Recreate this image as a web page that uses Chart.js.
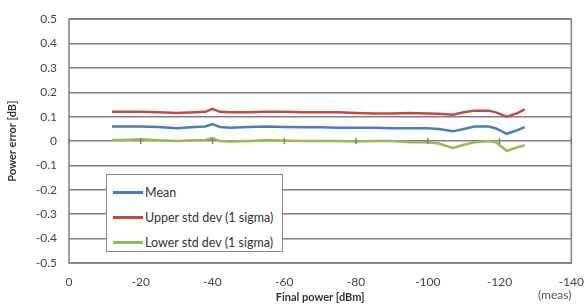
<!DOCTYPE html>
<html>
<head>
<meta charset="utf-8">
<script src="https://cdn.jsdelivr.net/npm/chart.js@4"></script>
<style>
  html, body { margin: 0; padding: 0; background: #fff; }
  #wrap { position: relative; width: 588px; height: 304px; }
  #legend {
    position: absolute; left: 106px; top: 174px; width: 177px; height: 78px;
    background: #fff; border: 1px solid #888; box-sizing: border-box;
    font-family: Lato, "Open Sans", sans-serif; font-size: 12.5px; color: #333;
    padding-top: 5px;
  }
  .legend-item { height: 25px; line-height: 25px; display: flex; align-items: center; padding-left: 6px; }
  .legend-line { width: 30px; height: 2.5px; margin-right: 2px; }
  #meas {
    position: absolute; left: 538px; top: 287px;
    font-family: Lato, "Open Sans", sans-serif; font-size: 12px; color: #555;
  }
</style>
</head>
<body>
<div id="wrap">
  <canvas id="chart" width="588" height="304"></canvas>
  <div id="legend"></div>
  <div id="meas">(meas)</div>
</div>
<script>
// Data
const finalPower = [-12, -15, -20, -25, -30, -35, -38, -40, -42, -45, -50, -55, -60, -65, -70, -75, -80, -85, -90, -95, -100, -103, -107, -110, -113, -117, -119, -122, -125, -127];
const meanErr = [0.06, 0.06, 0.06, 0.058, 0.053, 0.058, 0.06, 0.07, 0.058, 0.055, 0.058, 0.06, 0.058, 0.057, 0.057, 0.055, 0.055, 0.055, 0.053, 0.053, 0.053, 0.05, 0.04, 0.05, 0.06, 0.06, 0.052, 0.03, 0.045, 0.057];
const upperErr = [0.12, 0.12, 0.12, 0.118, 0.115, 0.118, 0.12, 0.132, 0.12, 0.118, 0.118, 0.12, 0.12, 0.118, 0.118, 0.118, 0.115, 0.113, 0.113, 0.115, 0.113, 0.112, 0.108, 0.118, 0.125, 0.125, 0.118, 0.1, 0.115, 0.13];
const lowerErr = [0.005, 0.005, 0.008, 0.003, 0, 0.003, 0.005, 0.012, 0, -0.002, 0, 0.003, 0.002, 0, 0, 0, -0.002, 0, 0, -0.005, -0.005, -0.01, -0.028, -0.015, -0.005, 0, -0.005, -0.04, -0.025, -0.017];
const seriesNames = ['Mean', 'Upper std dev (1 sigma)', 'Lower std dev (1 sigma)'];
const seriesColors = ['#4a7ebb', '#be4b48', '#98b954'];

const fontFamily = 'Lato, "Open Sans", sans-serif';

function toPoints(values) {
    return finalPower.map((x, i) => ({ x: x, y: values[i] }));
}

// frame around the plot area plus the small x ticks sitting on the zero line
const framePlugin = {
    id: 'frame',
    afterDraw(chart) {
        const ctx = chart.ctx;
        const area = chart.chartArea;
        const xs = chart.scales.x;
        const ys = chart.scales.y;
        ctx.save();
        ctx.strokeStyle = '#808080';
        ctx.lineWidth = 1.5;
        ctx.strokeRect(area.left, area.top, area.right - area.left, area.bottom - area.top);
        const y0 = ys.getPixelForValue(0);
        xs.ticks.forEach(t => {
            const px = xs.getPixelForValue(t.value);
            ctx.beginPath();
            ctx.moveTo(px, y0 - 3);
            ctx.lineTo(px, y0 + 3);
            ctx.stroke();
        });
        ctx.restore();
    }
};

const datasets = [meanErr, upperErr, lowerErr].map((vals, i) => ({
    label: seriesNames[i],
    data: toPoints(vals),
    borderColor: seriesColors[i],
    backgroundColor: seriesColors[i],
    borderWidth: 2.5,
    pointRadius: 0,
    tension: 0
}));

new Chart(document.getElementById('chart'), {
    type: 'line',
    data: { datasets: datasets },
    options: {
        responsive: false,
        animation: false,
        layout: { padding: { top: 12, right: 15, left: 0, bottom: 0 } },
        plugins: {
            legend: { display: false },
            tooltip: { enabled: false }
        },
        scales: {
            x: {
                type: 'linear',
                min: -140,
                max: 0,
                reverse: true,
                ticks: { stepSize: 20, color: '#444', font: { family: fontFamily, size: 12 }, padding: 4 },
                grid: { display: false },
                border: { display: false },
                title: { display: true, text: 'Final power [dBm]', color: '#333', font: { family: fontFamily, size: 11, weight: 'bold' }, padding: { top: 0, bottom: 0 } },
                afterFit(scale) { scale.height = 41; }
            },
            y: {
                min: -0.5,
                max: 0.5,
                ticks: { stepSize: 0.1, color: '#444', font: { family: fontFamily, size: 12 }, padding: 12 },
                grid: { color: '#808080', lineWidth: 1.5, drawTicks: false },
                border: { display: false },
                title: { display: true, text: 'Power error [dB]', color: '#333', font: { family: fontFamily, size: 11, weight: 'bold' }, padding: { top: 6, bottom: 2 } },
                afterFit(scale) { scale.width = 69; }
            }
        }
    },
    plugins: [framePlugin]
});

// legend box inside the plot
const legend = document.getElementById('legend');
legend.innerHTML = seriesNames.map((name, i) =>
    `<div class="legend-item"><div class="legend-line" style="background-color: ${seriesColors[i]};"></div>${name}</div>`
).join('');
</script>
</body>
</html>
